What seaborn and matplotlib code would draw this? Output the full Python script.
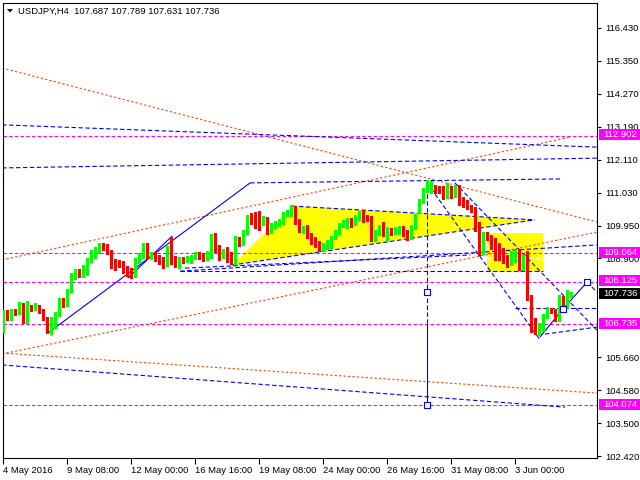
import numpy as np
import pandas as pd
import matplotlib
matplotlib.use("Agg")
import matplotlib.pyplot as plt
import seaborn as sns
from matplotlib.patches import Rectangle, Polygon

sns.set_theme(style="white")
plt.rcParams['font.family'] = ['Liberation Sans', 'DejaVu Sans']
plt.rcParams['lines.scale_dashes'] = False

# ---------------- data (USDJPY H4 candles) ----------------
opens = [106.54,107.10,106.97,107.17,107.10,107.30,106.81,107.30,107.23,107.30,
         107.17,106.94,106.48,106.64,107.04,107.46,107.36,107.82,108.28,108.41,
         108.35,108.41,108.84,108.93,109.10,109.33,109.26,109.10,108.80,108.74,
         108.70,108.57,108.47,108.35,108.80,108.93,109.23,108.93,109.03,108.93,
         108.87,108.67,109.20,108.87,108.64,108.87,108.80,108.80,108.90,109.00,
         108.97,108.87,108.97,109.56,109.23,108.97,109.20,109.03,108.77,109.52,
         109.39,109.72,110.21,110.18,110.18,110.05,110.18,109.78,109.95,110.01,
         110.08,110.31,110.34,110.51,110.11,109.78,109.92,109.65,109.49,109.36,
         109.23,109.26,109.29,109.56,109.72,109.95,109.95,110.15,110.01,110.18,
         110.37,110.24,110.21,109.52,109.72,109.92,109.72,109.82,109.72,109.75,
         109.88,109.75,109.59,109.92,110.41,110.73,111.10,111.10,111.19,111.13,
         111.13,110.90,111.16,110.96,111.22,110.80,110.70,110.57,110.51,109.95,
         109.06,109.69,109.59,109.46,109.33,109.16,108.93,108.74,108.84,109.10,
         108.57,109.06,107.63,106.81,106.45,106.54,106.97,107.20,107.13,106.87,
         107.59,107.30,107.687]
highs = [107.20,107.20,107.23,107.23,107.46,107.43,107.49,107.36,107.43,107.36,
         107.23,106.97,106.97,107.13,107.59,107.59,107.89,108.41,108.54,108.54,
         108.67,108.90,109.16,109.26,109.39,109.39,109.36,109.16,108.87,108.84,
         108.80,108.64,108.57,108.90,109.06,109.39,109.39,109.10,109.10,109.00,
         108.93,109.29,109.59,108.97,108.93,108.93,108.97,109.00,109.10,109.10,
         109.06,109.13,109.69,109.72,109.33,109.20,109.26,109.10,109.62,109.59,
         109.82,110.31,110.37,110.41,110.44,110.28,110.24,110.05,110.11,110.18,
         110.41,110.47,110.64,110.60,110.18,109.95,109.98,109.72,109.59,109.46,
         109.39,109.49,109.62,109.82,110.05,110.15,110.21,110.21,110.31,110.44,
         110.47,110.31,110.28,109.82,109.98,110.08,109.92,109.88,109.92,109.95,
         109.95,109.82,109.98,110.34,110.83,111.19,111.45,111.42,111.29,111.26,
         111.26,111.36,111.26,111.29,111.29,110.90,110.80,110.64,110.57,110.08,
         109.75,109.75,109.65,109.56,109.39,109.23,109.00,109.13,109.16,109.16,
         109.00,109.13,107.69,106.94,106.77,107.07,107.30,107.27,107.23,107.69,
         107.66,107.85,107.789]
lows = [106.48,106.87,106.87,107.04,107.07,106.77,106.77,107.17,107.20,107.10,
        106.87,106.45,106.42,106.61,107.00,107.30,107.33,107.79,108.21,108.28,
        108.28,108.35,108.77,108.90,109.06,109.16,109.03,108.57,108.51,108.61,
        108.41,108.31,108.25,108.28,108.74,108.90,108.90,108.87,108.80,108.70,
        108.57,108.64,108.70,108.61,108.57,108.74,108.77,108.74,108.87,108.87,
        108.80,108.84,108.90,109.10,108.84,108.90,108.77,108.70,108.70,109.29,
        109.33,109.69,110.01,109.88,109.82,109.98,109.69,109.72,109.88,109.95,
        110.01,110.28,110.28,110.01,109.75,109.72,109.56,109.36,109.26,109.13,
        109.13,109.20,109.23,109.52,109.69,109.92,109.88,109.92,109.98,110.15,
        110.08,110.11,109.46,109.46,109.65,109.62,109.49,109.65,109.69,109.69,
        109.62,109.49,109.52,109.85,110.37,110.70,111.06,111.03,111.03,111.03,
        110.83,110.87,110.87,110.90,110.64,110.57,110.51,110.41,109.78,109.00,
        109.03,109.49,109.20,108.84,108.84,108.74,108.61,108.67,108.77,108.51,
        108.51,107.53,106.48,106.42,106.38,106.51,106.94,107.10,106.84,106.84,
        107.20,107.27,107.631]
closes = [107.04,106.97,107.17,107.10,107.30,106.81,107.43,107.23,107.30,107.13,
          106.90,106.48,106.64,107.10,107.49,107.36,107.85,108.31,108.41,108.31,
          108.57,108.87,109.03,109.13,109.33,109.26,109.10,108.74,108.64,108.64,
          108.57,108.41,108.35,108.84,109.00,109.23,108.93,109.03,108.87,108.80,
          108.67,109.20,108.77,108.64,108.87,108.80,108.90,108.93,109.00,108.93,
          108.84,109.06,109.59,109.16,108.93,109.13,108.80,108.77,109.52,109.39,
          109.75,110.21,110.11,109.98,110.05,110.21,109.75,109.98,110.05,110.11,
          110.34,110.41,110.54,110.08,109.82,109.88,109.62,109.42,109.33,109.20,
          109.33,109.42,109.59,109.75,109.98,110.05,110.15,109.98,110.24,110.37,
          110.15,110.18,109.56,109.75,109.88,109.75,109.85,109.72,109.85,109.88,
          109.69,109.59,109.92,110.24,110.77,111.13,111.22,111.22,111.06,111.10,
          110.90,111.19,110.93,111.19,110.70,110.64,110.57,110.47,109.88,109.06,
          109.69,109.56,109.26,109.10,108.93,108.84,108.74,109.06,109.06,108.54,
          108.90,107.56,106.54,106.51,106.64,107.00,107.20,107.13,106.87,107.63,
          107.30,107.69,107.736]

x_tick_bars = [0, 16, 32, 48, 64, 80, 96, 112, 128]
x_tick_labels = ["4 May 2016", "9 May 08:00", "12 May 00:00", "16 May 16:00",
                 "19 May 08:00", "24 May 00:00", "26 May 16:00", "31 May 08:00",
                 "3 Jun 00:00"]
y_tick_values = [116.43, 115.35, 114.27, 113.19, 112.11, 111.03, 109.95,
                 108.90, 105.66, 104.58, 103.50, 102.42]
y_tick_labels = ["116.430", "115.350", "114.270", "113.190", "112.110", "111.030",
                 "109.950", "108.900", "105.660", "104.580", "103.500", "102.420"]

level_prices = [112.902, 109.064, 108.125, 106.735, 104.074]
level_labels = ["112.902", "109.064", "108.125", "106.735", "104.074"]
last_price = 107.736
title_text = "USDJPY,H4  107.687 107.789 107.631 107.736"

# analysis objects (bar index, price)
orange_lines = [((-0.3, 115.12), (148.4, 110.08)),
                ((-0.3, 108.84), (141.7, 112.86)),
                ((-0.3, 105.76), (148.4, 109.75)),
                ((-0.3, 105.79), (148.4, 104.48))]
blue_dashed = [((-0.3, 113.26), (148.4, 112.53)),
               ((-0.3, 111.85), (148.4, 112.17)),
               ((61.7, 111.36), (139.7, 111.49)),
               ((72.2, 110.60), (132.9, 110.15)),
               ((57.2, 108.67), (132.9, 110.15)),
               ((44.2, 108.47), (134.9, 108.47)),
               ((44.2, 108.47), (148.4, 109.33)),
               ((45.4, 108.57), (116.7, 109.00)),
               ((-0.3, 105.40), (140.4, 104.02)),
               ((105.9, 111.36), (134.2, 106.22)),
               ((112.9, 111.36), (148.4, 106.54)),
               ((127.9, 107.27), (148.4, 107.27)),
               ((133.7, 106.38), (148.4, 106.64)),
               ((106.0, 111.45), (106.0, 106.74)),
               ((145.9, 108.11), (148.4, 107.79))]
blue_solid = [((11.2, 106.45), (61.7, 111.36)),
              ((31.2, 108.25), (42.2, 109.62)),
              ((139.9, 107.23), (145.9, 108.11)),
              ((134.2, 106.32), (139.9, 107.23)),
              ((106.0, 106.74), (106.0, 104.09))]
square_pts = [(106.0, 107.79), (106.0, 104.09), (139.9, 107.23), (145.9, 108.11)]
white_dashed = [((68.7, 109.98), (124.2, 109.98)),
                ((121.0, 108.90), (135.0, 108.90))]
tri_pts = [(57.2, 108.67), (72.2, 110.60), (132.9, 110.15)]
rect_box = (120.9, 108.44, 134.9, 109.72)

# ---------------- figure ----------------
W, H = 640, 480
fig = plt.figure(figsize=(6.4, 4.8), dpi=100)
fig.patch.set_facecolor("white")
L, R, T, B = 2.5, 596.7, 2.7, 458.3
ax = fig.add_axes([L / W, 1 - B / H, (R - L) / W, (B - T) / H])
ax.set_facecolor("white")
ax.set_xlim(-0.2, 148.35)
ax.set_ylim(102.345, 117.258)

BLUE = "#0000FF"
ORANGE = "#FF4500"
MAG = "#FF00FF"

# yellow shapes
ax.add_patch(Polygon(tri_pts, closed=True, fc="#FFFF00", ec="none", zorder=1))
x0, y0, x1, y1 = rect_box
ax.add_patch(Rectangle((x0, y0), x1 - x0, y1 - y0, fc="#FFFF00", ec="none", zorder=1))

for (a, b) in white_dashed:
    ax.plot([a[0], b[0]], [a[1], b[1]], color="white", lw=0.8, dashes=(3.2, 1.8), zorder=1.5)

for p in level_prices:
    ax.axhline(p, color=MAG, lw=0.8, dashes=(2.5, 1.6), zorder=2)

for (a, b) in orange_lines:
    ax.plot([a[0], b[0]], [a[1], b[1]], color=ORANGE, lw=0.8, dashes=(1.6, 1.6), zorder=2)
for (a, b) in blue_dashed:
    ax.plot([a[0], b[0]], [a[1], b[1]], color=BLUE, lw=0.8, dashes=(3.2, 1.8), zorder=2)
for (a, b) in blue_solid:
    ax.plot([a[0], b[0]], [a[1], b[1]], color=BLUE, lw=0.8, zorder=2)

sq = pd.DataFrame(square_pts, columns=["bar", "price"])
sns.scatterplot(data=sq, x="bar", y="price", marker="s", s=16, facecolor="white",
                edgecolor=BLUE, linewidth=0.8, ax=ax, zorder=4, legend=False)

# candles
df = pd.DataFrame({"open": opens, "high": highs, "low": lows, "close": closes})
df["bar"] = np.arange(len(df))
up = df["close"] >= df["open"]
cols = np.where(up, "#00FF00", "#FF0000")
ax.vlines(df["bar"], df["low"], df["high"], colors=cols, lw=0.9, zorder=3,
          antialiased=False)
bottoms = np.minimum(df["open"], df["close"])
heights = np.maximum(np.abs(df["close"] - df["open"]), 0.033)
ax.bar(df["bar"], heights, bottom=bottoms, width=0.7, color=cols, linewidth=0,
       zorder=3.5, antialiased=False)

ax.set_xlabel("")
ax.set_ylabel("")

# axes styling
for s in ax.spines.values():
    s.set_visible(True)
    s.set_color("black")
    s.set_linewidth(0.8)
ax.grid(False)
ax.yaxis.tick_right()
ax.set_yticks(y_tick_values)
ax.set_yticklabels(y_tick_labels)
ax.set_xticks(x_tick_bars)
ax.set_xticklabels(x_tick_labels)
ax.tick_params(axis="y", right=True, left=False, direction="out", length=3, width=0.8,
               pad=3, labelsize=6.8, colors="black")
ax.tick_params(axis="x", bottom=True, direction="out", length=4, width=0.8,
               pad=1.2, labelsize=6.8, colors="black")
for lbl in ax.get_xticklabels():
    lbl.set_ha("left")

# right price labels
fig.canvas.draw()
def ypix(price):
    return H - ax.transData.transform((0, price))[1]

for p, t in zip(level_prices, level_labels):
    yc = ypix(p) - 1
    fig.patches.append(Rectangle((598.5 / W, 1 - (yc + 5.5) / H), 41.5 / W, 11 / H,
                                 transform=fig.transFigure, fc=MAG, ec="none", zorder=10))
    fig.text(603 / W, 1 - yc / H, t, color="white", fontsize=6.8, va="center",
             ha="left", zorder=11)
yc = ypix(last_price)
fig.patches.append(Rectangle((598.5 / W, 1 - (yc + 5.5) / H), 41.5 / W, 11 / H,
                             transform=fig.transFigure, fc="black", ec="none", zorder=10))
fig.text(603 / W, 1 - yc / H, f"{last_price:.3f}", color="white", fontsize=6.8,
         va="center", ha="left", zorder=11)

# title and symbol marker
fig.patches.append(Polygon([(7 / W, 1 - 9 / H), (13 / W, 1 - 9 / H), (10 / W, 1 - 12.5 / H)],
                           closed=True, transform=fig.transFigure, fc="black", ec="none", zorder=10))
fig.text(18.5 / W, 1 - 11 / H, title_text, fontsize=6.8, va="center", ha="left", color="black")

fig.savefig("out.png", dpi=100, facecolor="white")
